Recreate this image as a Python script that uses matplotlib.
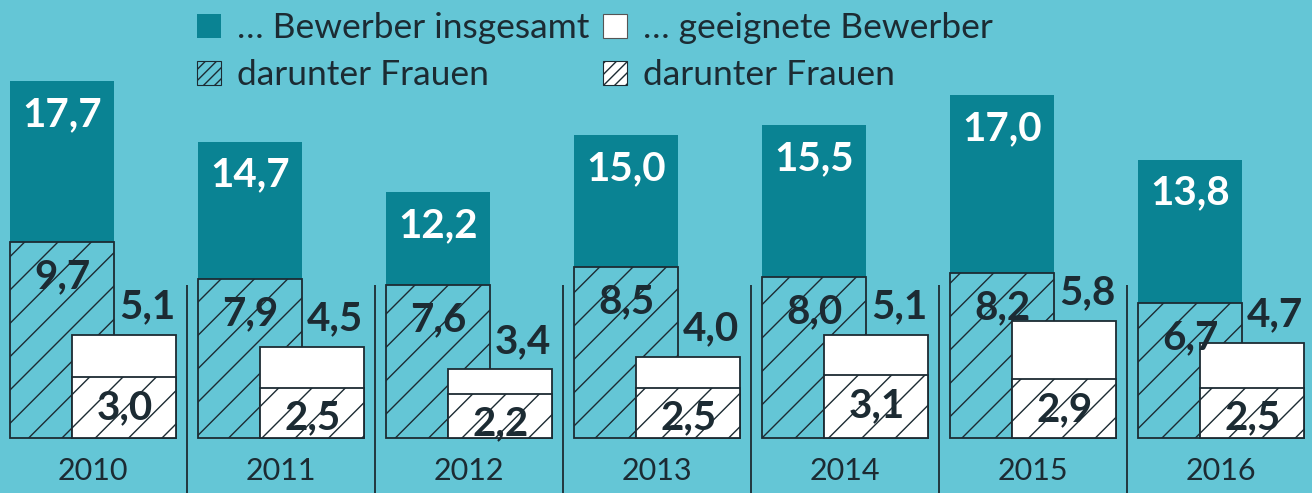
import numpy as np
import matplotlib.pyplot as plt
from matplotlib.patches import Patch

# Bewerber (in Tausend) je Jahr
years = ['2010', '2011', '2012', '2013', '2014', '2015', '2016']
total = [17.7, 14.7, 12.2, 15.0, 15.5, 17.0, 13.8]
total_women = [9.7, 7.9, 7.6, 8.5, 8.0, 8.2, 6.7]
suitable = [5.1, 4.5, 3.4, 4.0, 5.1, 5.8, 4.7]
suitable_women = [3.0, 2.5, 2.2, 2.5, 3.1, 2.9, 2.5]

bg = '#64c6d6'
teal = '#0a8393'
dark = '#1c2b33'

plt.rcParams['font.family'] = ['Lato', 'DejaVu Sans']
plt.rcParams['hatch.linewidth'] = 1.0


def fmt(v):
    return f'{v:.1f}'.replace('.', ',')


fig = plt.figure(figsize=(13.12, 4.93), dpi=100, facecolor=bg)
ax = fig.add_axes([0, 0, 1, 1])
ax.set_facecolor(bg)
ax.axis('off')

x = np.arange(len(years))
w = 0.553
off = 0.332

ax.bar(x, total, w, color=teal, linewidth=0)
ax.bar(x, total_women, w, color=bg, edgecolor=dark, hatch='/', linewidth=1.3)
ax.bar(x + off, suitable, w, color='white', edgecolor=dark, linewidth=1.3)
ax.bar(x + off, suitable_women, w, color='white', edgecolor=dark, hatch='/', linewidth=1.3)

# Trennlinien zwischen den Jahren
ax.vlines(x[:-1] + off / 2 + 0.5, -3, 7.6, color=dark, linewidth=1.3)

vs = 29
for i in range(len(years)):
    ax.annotate(fmt(total[i]), (x[i], total[i]), xytext=(0, -24), textcoords='offset points',
                ha='center', va='center', color='white', fontsize=vs, fontweight='bold')
    ax.annotate(fmt(total_women[i]), (x[i], total_women[i]), xytext=(0, -25), textcoords='offset points',
                ha='center', va='center', color=dark, fontsize=vs, fontweight='bold')
    ax.annotate(fmt(suitable[i]), (x[i] + off + w / 2, suitable[i]), xytext=(-1, 12), textcoords='offset points',
                ha='right', va='baseline', color=dark, fontsize=vs, fontweight='bold')
    ax.annotate(fmt(suitable_women[i]), (x[i] + off, suitable_women[i]), xytext=(0, -22), textcoords='offset points',
                ha='center', va='center', color=dark, fontsize=vs, fontweight='bold')
    ax.annotate(years[i], (x[i] + off / 2, 0), xytext=(0, -24), textcoords='offset points',
                ha='center', va='center', color=dark, fontsize=22)

handles = [Patch(facecolor=teal, edgecolor='none'),
           Patch(facecolor=bg, edgecolor=dark, hatch='///', linewidth=0.8),
           Patch(facecolor='white', edgecolor='#555555', linewidth=0.8),
           Patch(facecolor='white', edgecolor=dark, hatch='///', linewidth=0.8)]
labels = ['… Bewerber insgesamt', 'darunter Frauen', '… geeignete Bewerber', 'darunter Frauen']
ax.legend(handles, labels, ncol=2, loc='upper left', bbox_to_anchor=(0.15, 0.975), frameon=False,
          fontsize=25.5, labelcolor=dark, handlelength=0.68, handleheight=0.68, handletextpad=0.45,
          columnspacing=0.4, labelspacing=0.42, borderpad=0, borderaxespad=0)

ax.set_xlim(-0.33, 6.649)
ax.set_ylim(-2.73, 21.72)

fig.savefig('out.png', dpi=100, facecolor=bg)
